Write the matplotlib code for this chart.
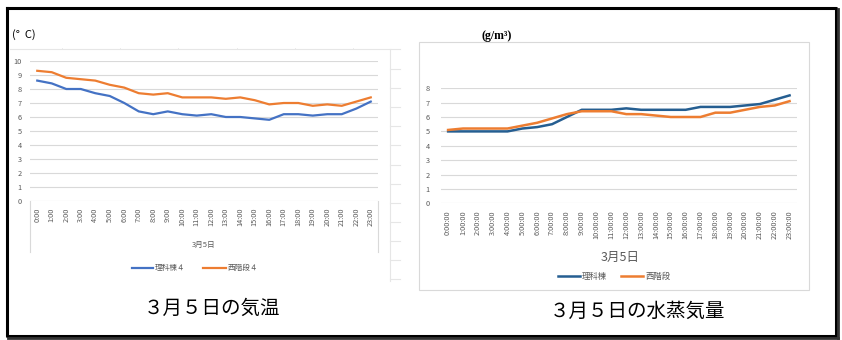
import matplotlib
matplotlib.use("Agg")
import matplotlib.pyplot as plt
from matplotlib.lines import Line2D
from matplotlib.patches import Rectangle

plt.rcParams['font.family'] = ['Noto Sans CJK JP', 'DejaVu Sans']

# temperature on 3/5 (deg C)
hours = [f"{h}:00" for h in range(24)]
temp_rika = [8.6, 8.4, 8.0, 8.0, 7.7, 7.5, 7.0, 6.4, 6.2, 6.4, 6.2, 6.1,
             6.2, 6.0, 6.0, 5.9, 5.8, 6.2, 6.2, 6.1, 6.2, 6.2, 6.6, 7.1]
temp_nishi = [9.3, 9.2, 8.8, 8.7, 8.6, 8.3, 8.1, 7.7, 7.6, 7.7, 7.4, 7.4,
              7.4, 7.3, 7.4, 7.2, 6.9, 7.0, 7.0, 6.8, 6.9, 6.8, 7.1, 7.4]

# water vapour on 3/5 (g/m3)
hours_sec = [f"{h}:00:00" for h in range(24)]
vap_rika = [5.0, 5.0, 5.0, 5.0, 5.0, 5.2, 5.3, 5.5, 6.0, 6.5, 6.5, 6.5,
            6.6, 6.5, 6.5, 6.5, 6.5, 6.7, 6.7, 6.7, 6.8, 6.9, 7.2, 7.5]
vap_nishi = [5.1, 5.2, 5.2, 5.2, 5.2, 5.4, 5.6, 5.9, 6.2, 6.4, 6.4, 6.4,
             6.2, 6.2, 6.1, 6.0, 6.0, 6.0, 6.3, 6.3, 6.5, 6.7, 6.8, 7.1]

W, H = 842, 340
GRID = '#D9D9D9'
TXT = '#595959'


def box(x0, y0, x1, y1):
    return [x0 / W, 1 - y1 / H, (x1 - x0) / W, (y1 - y0) / H]


def fx(x):
    return x / W


def fy(y):
    return 1 - y / H


def pline(fig, xs, ys, **kw):
    fig.add_artist(Line2D([fx(x) for x in xs], [fy(y) for y in ys], **kw))


fig = plt.figure(figsize=(W / 100, H / 100), dpi=100)


def setup(ax, labels, ymax, ypad, xpad):
    ax.set_xlim(-0.5, 23.5)
    ax.set_ylim(0, ymax)
    ax.set_yticks(range(ymax + 1))
    ax.set_xticks(range(24))
    ax.set_xticklabels(labels, rotation=90, va='top')
    for s in ax.spines.values():
        s.set_visible(False)
    ax.grid(axis='y', color=GRID, lw=0.8)
    ax.set_axisbelow(True)
    ax.tick_params(axis='y', length=0, pad=ypad, labelsize=5.3, colors=TXT)
    ax.tick_params(axis='x', length=0, pad=xpad, labelsize=5.3, colors=TXT)
    ax.patch.set_alpha(0)


# left: temperature
ax1 = fig.add_axes(box(30, 61, 378, 201))
setup(ax1, hours, 10, 6, 5)
ax1.plot(range(24), temp_rika, color='#4472C4', lw=1.6, clip_on=False)
ax1.plot(range(24), temp_nishi, color='#ED7D31', lw=1.6, clip_on=False)

pline(fig, [30, 30], [201, 252], color=GRID, lw=0.8)
pline(fig, [378, 378], [201, 252], color=GRID, lw=0.8)
pline(fig, [10, 400], [49, 49], color='#E6E6E6', lw=0.8)
for x in [62, 120, 178, 237, 295, 353]:
    pline(fig, [x, x], [47.5, 49], color='#E6E6E6', lw=0.6)
pline(fig, [390, 390], [49, 281], color='#E6E6E6', lw=0.8)
for i in range(12):
    y = 69 + i * 19.1
    pline(fig, [390, 400], [y, y], color='#E6E6E6', lw=0.8)

fig.text(fx(12), fy(35), '(°  C)', fontsize=8, ha='left', va='center')
fig.text(fx(204), fy(245), '3月5日', fontsize=5.5, color=TXT, ha='center', va='center')
pline(fig, [132, 153], [268, 268], color='#4472C4', lw=1.6)
fig.text(fx(155), fy(268), '理科棟４', fontsize=5.5, color=TXT, va='center')
pline(fig, [203, 226], [268, 268], color='#ED7D31', lw=1.6)
fig.text(fx(228), fy(268), '西階段４', fontsize=5.5, color=TXT, va='center')
fig.text(fx(212), fy(308), '３月５日の気温', fontsize=14, ha='center', va='center')

# right: water vapour
fig.add_artist(Rectangle((fx(419), fy(290)), fx(809 - 419), (290 - 42) / H,
                         fill=False, edgecolor=GRID, lw=0.8))
ax2 = fig.add_axes(box(440.7, 88.2, 797, 203.4))
setup(ax2, hours_sec, 8, 8, 5)
ax2.plot(range(24), vap_rika, color='#255E91', lw=1.8, clip_on=False)
ax2.plot(range(24), vap_nishi, color='#ED7D31', lw=1.8, clip_on=False)

fig.text(fx(497), fy(36), '(g/m³)', fontsize=8.5, family='Liberation Serif',
         weight='bold', ha='center', va='center')
fig.text(fx(620), fy(257), '3月5日', fontsize=9, color=TXT, ha='center', va='center')
pline(fig, [558, 580], [276, 276], color='#255E91', lw=1.8)
fig.text(fx(582), fy(276), '理科棟', fontsize=6, color=TXT, va='center')
pline(fig, [621, 643], [276, 276], color='#ED7D31', lw=1.8)
fig.text(fx(645), fy(276), '西階段', fontsize=6, color=TXT, va='center')
fig.text(fx(638), fy(311), '３月５日の水蒸気量', fontsize=14, ha='center', va='center')

# outer frame
pline(fig, [6.5, 836, 836, 6.5, 6.5], [8, 8, 336, 336, 8], color='black', lw=2.2)
pline(fig, [838, 838], [9, 338], color='#333333', lw=2)
pline(fig, [8, 838], [338, 338], color='#333333', lw=2)

fig.savefig('out.png', dpi=100)
